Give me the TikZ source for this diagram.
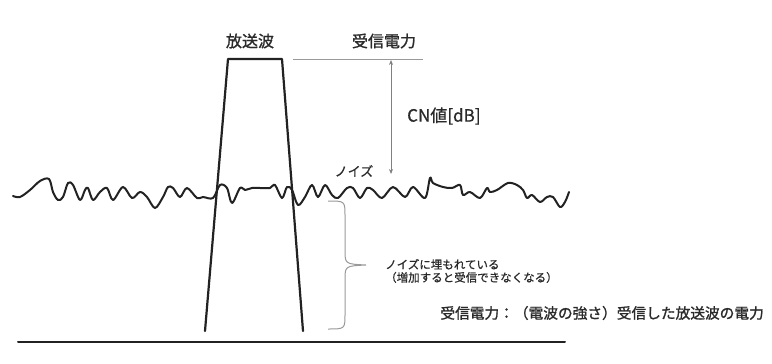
\documentclass[tikz,border=0pt]{standalone}
\usepackage{fontspec}
\setmainfont{Noto Sans CJK JP}[FakeBold=0.6]
\newfontfamily\thick{Noto Sans CJK JP}[FakeBold=1.2]
\usetikzlibrary{arrows.meta}
\definecolor{ink}{HTML}{222222}
\definecolor{txt}{HTML}{2a2a2a}
\definecolor{thin}{HTML}{999999}
\tikzset{
  heavy/.style={draw=ink, line width=2pt, line join=round, line cap=round},
  guide/.style={draw=thin, line width=0.9pt},
  lbl/.style={inner sep=0pt, text=txt},
}
\begin{document}
\begin{tikzpicture}[x=1pt, y=-1pt]
\useasboundingbox[fill=white] (0,0) rectangle (772,364);
% carrier (trapezoid)
\draw[heavy, line width=2.2pt] (205,331) -- (228,59) -- (282,59) -- (303,331);
% noise
\draw[heavy, line width=2pt] plot[smooth, tension=0.55] coordinates {
(13,196) (20,197) (30,190) (40,181) (49,179) (53,192) (58,200) (63,197) (68,183) (73,185)
(80,200) (85,190) (88,188) (93,200) (100,192) (107,188) (113,200) (123,187) (132,198)
(140,192) (147,197) (155,208) (163,197) (168,187) (173,188) (180,197) (187,188) (197,198)
(203,197) (213,198) (220,185) (227,188) (232,203) (240,188) (245,190) (252,188) (260,188)
(270,188) (275,185) (282,198) (287,187) (292,190) (298,205) (305,197) (312,185) (318,197)
(325,185) (332,195) (338,198) (347,188) (353,188) (360,198) (367,188) (373,190) (382,198)
(393,187) (405,197) (413,187) (425,198) (430,178) (433,183) (443,187) (452,188) (460,185)
(463,195) (470,192) (480,198) (487,188) (490,192) (497,190) (508,183) (517,185) (523,190)
(527,198) (532,195) (540,202) (547,197) (553,197) (560,207) (565,202) (569,192)};
% baseline
\draw[heavy] (18,342) -- (565,342);
% received power level
\coordinate (lvlL) at (293,59);
\coordinate (lvlR) at (423,59);
\draw[guide] (lvlL) -- (lvlR);
\coordinate (cnTop) at (391,60);
\coordinate (cnBot) at (391,174);
\draw[guide, draw=gray, {Stealth[length=5pt,width=4pt]}-{Stealth[length=5pt,width=4pt]}] (cnTop) -- (cnBot);
% brace
\draw[draw=thin, line width=1pt] (328,201) .. controls (345,201) .. (345,216) -- (345,250)
  .. controls (345,264) .. (366,265) .. controls (345,266) .. (345,280) -- (345,314)
  .. controls (345,329) .. (328,329);
% labels
\node[lbl, font=\thick\fontsize{16}{18}\selectfont] (carrier) at (250,41) {放送波};
\node[lbl, font=\thick\fontsize{16}{18}\selectfont] (power) at (384,41) {受信電力};
\node[lbl, font=\fontsize{17}{19}\selectfont, anchor=west] (cn) at (407,116) {CN値[dB]};
\node[lbl, font=\fontsize{13}{15}\selectfont] (noise) at (354,171) {ノイズ};
\node[lbl, font=\fontsize{11.5}{13}\selectfont, anchor=west, align=left] (buried) at (385,271)
  {ノイズに埋もれている\\（増加すると受信できなくなる）};
\node[lbl, font=\thick\fontsize{14.7}{16}\selectfont, anchor=east] (defn) at (764,313)
  {受信電力：（電波の強さ）受信した放送波の電力};
\end{tikzpicture}
\end{document}
